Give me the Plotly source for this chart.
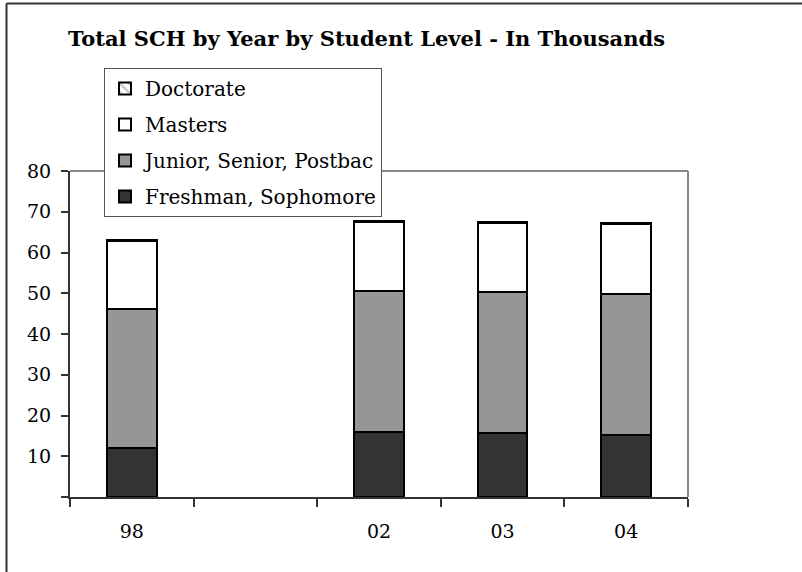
import plotly.graph_objects as go

years = ["98", " ", "02", "03", "04"]
freshman_soph = [12.0, None, 16.0, 15.7, 15.2]
junior_senior_postbac = [34.1, None, 34.6, 34.6, 34.6]
masters = [16.7, None, 16.9, 16.9, 17.2]
doctorate = [0.3, None, 0.3, 0.3, 0.3]

y_ticks = [0, 10, 20, 30, 40, 50, 60, 70, 80]
y_ticktext = ["", "10", "20", "30", "40", "50", "60", "70", "80"]

FONT = "DejaVu Serif"

W, H = 802, 572
L, R, T, B = 70, 114, 171, 75
PW, PH = W - L - R, H - T - B


def px_x(px):
    return (px - L) / PW


def px_y(py):
    return (H - B - py) / PH


fig = go.Figure()
line = dict(color="#000000", width=2)
fig.add_trace(go.Bar(name="Freshman, Sophomore", x=years, y=freshman_soph,
                     marker=dict(color="#333333", line=line), legendgroup="a", legendrank=4))
fig.add_trace(go.Bar(name="Junior, Senior, Postbac", x=years, y=junior_senior_postbac,
                     marker=dict(color="#969696", line=line), legendgroup="b", legendrank=3))
fig.add_trace(go.Bar(name="Masters", x=years, y=masters,
                     marker=dict(color="#ffffff", line=line), legendgroup="c", legendrank=2))
fig.add_trace(go.Bar(name="Doctorate", x=years, y=doctorate,
                     marker=dict(color="#ffffff", line=line,
                                 pattern=dict(shape="\\", fgcolor="#969696", bgcolor="#ffffff", size=8, solidity=0.4)),
                     legendgroup="d", legendrank=1))

fig.update_traces(width=0.4, hoverinfo="skip")

fig.update_layout(
    width=W, height=H,
    margin=dict(l=L, r=R, t=T, b=B, autoexpand=False),
    paper_bgcolor="white", plot_bgcolor="white",
    barmode="stack",
    font=dict(family=FONT, size=19, color="#000000"),
    title=dict(text="<b>Total SCH by Year by Student Level - In Thousands</b>",
               x=68 / W, xanchor="left", xref="container",
               y=1 - 39 / H, yanchor="middle",
               font=dict(family=FONT, size=21, color="#000000")),
    showlegend=True,
    legend=dict(x=px_x(104), y=px_y(68), xanchor="left", yanchor="top",
                traceorder="grouped", tracegroupgap=7,
                bgcolor="white", bordercolor="#555555", borderwidth=1,
                font=dict(family=FONT, size=20, color="#000000")),
    xaxis=dict(type="category", categoryorder="array", categoryarray=years,
               range=[-0.5, 4.5], tickson="boundaries", ticks="outside", ticklen=8,
               tickcolor="#333333", tickwidth=1.5,
               showline=True, linecolor="#333333", linewidth=2,
               showgrid=False, zeroline=False, ticklabelstandoff=16,
               tickfont=dict(family=FONT, size=19)),
    yaxis=dict(range=[0, 80], tickvals=y_ticks, ticktext=y_ticktext,
               ticks="outside", ticklen=7, tickcolor="#333333", tickwidth=1.5,
               showline=True, linecolor="#333333", linewidth=2,
               showgrid=False, zeroline=False, ticklabelstandoff=6,
               tickfont=dict(family=FONT, size=19)),
    xaxis2=dict(overlaying="x", range=[-0.5, 4.5],
                tickvals=[-0.5, 0.5, 1.5, 2.5, 3.5, 4.5],
                ticks="inside", ticklen=7, tickcolor="#333333", tickwidth=1.5,
                showticklabels=False, showline=False, showgrid=False, zeroline=False,
                anchor="y", side="bottom"),
    yaxis2=dict(overlaying="y", range=[0, 80], tickvals=y_ticks,
                ticks="inside", ticklen=7, tickcolor="#333333", tickwidth=1.5,
                showticklabels=False, showline=False, showgrid=False, zeroline=False,
                anchor="x", side="left"),
    shapes=[
        dict(type="line", xref="paper", yref="paper", x0=0, x1=1, y0=1, y1=1,
             line=dict(color="#888888", width=2), layer="below"),
        dict(type="line", xref="paper", yref="paper", x0=1, x1=1, y0=0, y1=1,
             line=dict(color="#888888", width=2), layer="below"),
        dict(type="line", xref="paper", yref="paper", x0=px_x(6.5), x1=px_x(810),
             y0=px_y(3.5), y1=px_y(3.5), line=dict(color="#333333", width=2)),
        dict(type="line", xref="paper", yref="paper", x0=px_x(6.5), x1=px_x(6.5),
             y0=px_y(3.5), y1=px_y(580), line=dict(color="#333333", width=2)),
    ],
)

fig.write_html("out.html", config={"displayModeBar": False},
               post_script="document.body.style.margin='0';")
